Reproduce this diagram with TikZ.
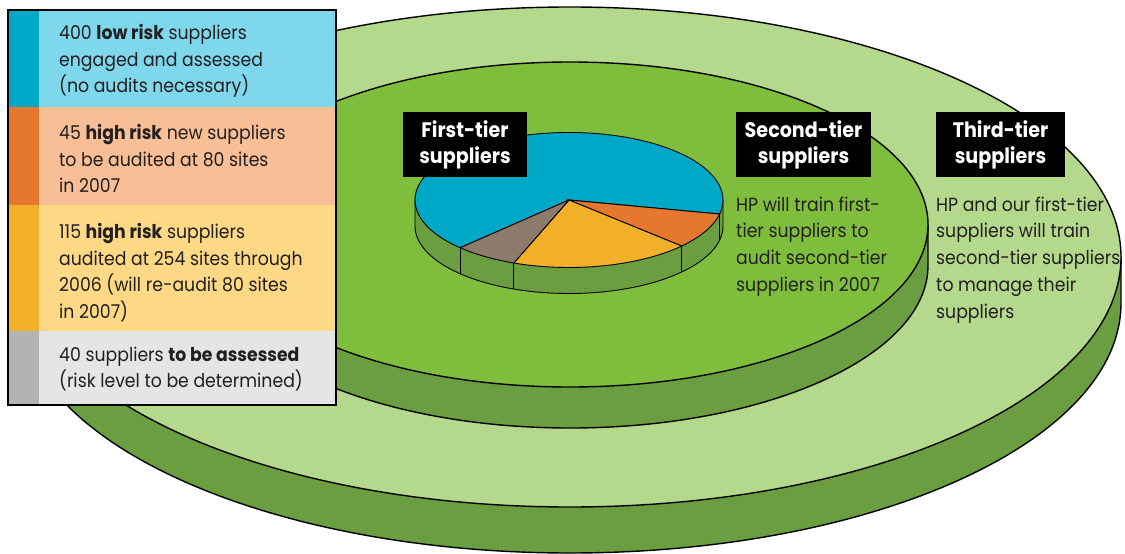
\documentclass[tikz,border=0pt]{standalone}
\usepackage{fontspec}
\setmainfont{Poppins}[FakeStretch=0.91]
\definecolor{outertop}{HTML}{B4D98C}
\definecolor{midtop}{HTML}{7FBE3D}
\definecolor{rimgreen}{HTML}{6B9E40}
\definecolor{pieblue}{HTML}{00A8C8}
\definecolor{pieorange}{HTML}{E5782E}
\definecolor{pieyellow}{HTML}{F2B02A}
\definecolor{piebrown}{HTML}{8C7B6A}
\definecolor{lgblue}{HTML}{7FD7EC}
\definecolor{lgorange}{HTML}{F8BE95}
\definecolor{lgyellow}{HTML}{FED985}
\definecolor{lggrey}{HTML}{E4E5E5}
\definecolor{stripgrey}{HTML}{B3B3B3}
\definecolor{textdark}{HTML}{231F20}
\newcommand\lnstrut{\rule{0pt}{15pt}}
\begin{document}
\begin{tikzpicture}[x=1pt,y=-1pt,
  outline/.style={draw=black,line width=1.4pt},
  rimface/.style={outline,fill=rimgreen},
  slice/.style={draw=black,line width=0.9pt},
  bodytext/.style={font=\fontsize{19}{26.7}\selectfont,text=textdark,
    inner sep=0pt,anchor=north west,align=left},
  tierbox/.style={fill=black,text=white,inner sep=0pt,align=center,
    minimum height=65pt,font=\bfseries\fontsize{21}{26}\selectfont}]
\useasboundingbox (0,0) rectangle (1125,554);

% outer disk: third tier
\path[rimface] (19,257) -- (19,303)
  arc[start angle=180,end angle=0,x radius=551,y radius=250] -- (1121,257) -- cycle;
\path[outline,fill=outertop] (570,257) ellipse[x radius=551,y radius=250];

% middle disk: second tier
\path[rimface] (212,224.5) -- (212,265.5)
  arc[start angle=180,end angle=0,x radius=358,y radius=162.5] -- (928,224.5) -- cycle;
\path[outline,fill=midtop] (570,224.5) ellipse[x radius=358,y radius=162.5];

% pie of first-tier suppliers: side wall
\path[slice,fill=rimgreen] (723,200) -- (723,226)
  arc[start angle=0,end angle=180,x radius=154,y radius=67.5] -- (415,200) -- cycle;
\foreach \a in {12,43,111,135}
  \draw[slice] ([shift={(569,200)}]\a:154 and 67.5) -- ++(0,26);

% pie top
\path[slice,fill=pieblue] (569,200) -- ([shift={(569,200)}]135:154 and 67.5)
  arc[start angle=135,end angle=372,x radius=154,y radius=67.5] -- cycle;
\path[slice,fill=pieorange] (569,200) -- ([shift={(569,200)}]12:154 and 67.5)
  arc[start angle=12,end angle=43,x radius=154,y radius=67.5] -- cycle;
\path[slice,fill=pieyellow] (569,200) -- ([shift={(569,200)}]43:154 and 67.5)
  arc[start angle=43,end angle=111,x radius=154,y radius=67.5] -- cycle;
\path[slice,fill=piebrown] (569,200) -- ([shift={(569,200)}]111:154 and 67.5)
  arc[start angle=111,end angle=135,x radius=154,y radius=67.5] -- cycle;

% legend panel
\fill[lgblue] (8,10) rectangle (336,107);
\fill[lgorange] (8,107) rectangle (336,205);
\fill[lgyellow] (8,205) rectangle (336,331);
\fill[lggrey] (8,331) rectangle (336,405);
\fill[pieblue] (8,10) rectangle (39,107);
\fill[pieorange] (8,107) rectangle (39,205);
\fill[pieyellow] (8,205) rectangle (39,331);
\fill[stripgrey] (8,331) rectangle (39,405);
\draw[line width=2.6pt] (8,10) rectangle (336,405);

\node[bodytext] (lowrisk) at (59,24)
  {\lnstrut 400 \textbf{low risk} suppliers\\engaged and assessed\\(no audits necessary)};
\node[bodytext] (newhigh) at (59,124)
  {\lnstrut 45 \textbf{high risk} new suppliers\\to be audited at 80 sites\\in 2007};
\node[bodytext] (oldhigh) at (59,223)
  {\lnstrut 115 \textbf{high risk} suppliers\\audited at 254 sites through\\2006 (will re-audit 80 sites\\in 2007)};
\node[bodytext] (unassessed) at (59,346)
  {\lnstrut 40 suppliers \textbf{to be assessed}\\(risk level to be determined)};

% tier labels
\node[tierbox,minimum width=124pt] (tier1) at (465,144.5) {First-tier\\suppliers};
\node[tierbox,minimum width=135pt] (tier2) at (803.5,144.5) {Second-tier\\suppliers};
\node[tierbox,minimum width=129pt] (tier3) at (1000.5,144.5) {Third-tier\\suppliers};

% tier descriptions
\node[bodytext] (desc2) at (736,196)
  {\lnstrut HP will train first-\\tier suppliers to\\audit second-tier\\suppliers in 2007};
\node[bodytext] (desc3) at (936,196)
  {\lnstrut HP and our first-tier\\suppliers will train\\second-tier suppliers\\to manage their\\suppliers};
\end{tikzpicture}
\end{document}
